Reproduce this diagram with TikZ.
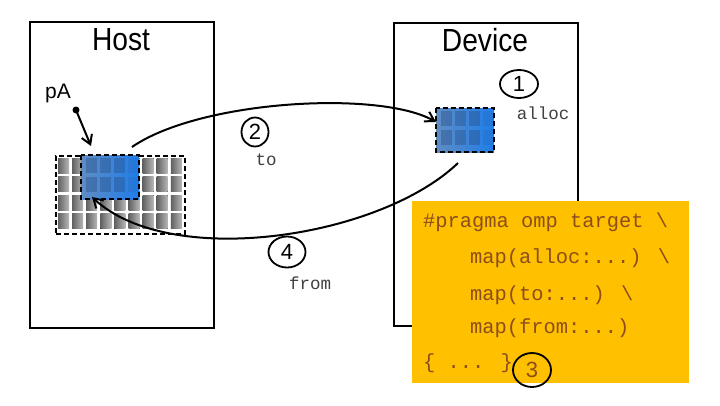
\documentclass[tikz,border=0pt]{standalone}
\usepackage{fontspec}
\setmainfont{Liberation Sans}
\newfontfamily\labelfont[FakeStretch=0.88]{Liberation Sans}
\newfontfamily\codefont{Liberation Mono}
\usetikzlibrary{shapes.geometric,arrows.meta}
\definecolor{orangebox}{RGB}{255,192,0}
\definecolor{codebrown}{RGB}{140,78,28}
\definecolor{blueL}{RGB}{95,140,195}
\definecolor{blueR}{RGB}{30,125,235}
\definecolor{cellblue}{RGB}{35,70,120}
\tikzset{
  frame/.style={draw=black, line width=1.8pt, minimum width=184pt, inner sep=0pt, anchor=north west},
  dashbox/.style={draw=black, line width=2pt, dash pattern=on 5pt off 3pt},
  arr/.style={line width=2pt, -{Straight Barb[length=9pt,width=11pt,line width=2pt]}},
  num/.style={draw, ellipse, line width=1.8pt, inner sep=0pt, font=\fontsize{22}{24}\selectfont},
  small/.style={font=\codefont\fontsize{17.5}{20}\selectfont, text=black!75},
  code/.style={font=\codefont\fontsize{20.4}{24}\selectfont, text=codebrown, anchor=west, inner sep=0pt},
  graycell/.style={left color=black!62, right color=black!28},
  blueblock/.pic={
    \fill[left color=blueL, right color=blueR] (0,0) rectangle (58,44);
    \foreach \i in {0,1,2} {
      \foreach \j in {0,1} {
        \fill[cellblue, opacity=0.35] (5+\i*14.1,3+\j*18.6) rectangle (16+\i*14.1,18+\j*18.6);
      }
    }
    \foreach \j in {0,1} {
      \fill[cellblue, opacity=0.12] (47.3,3+\j*18.6) rectangle (58,18+\j*18.6);
    }
    \draw[dashbox] (0,0) rectangle (58,44);
  }
}
\begin{document}
\begin{tikzpicture}[x=1pt,y=-1pt]
\useasboundingbox (0,0) rectangle (720,405);
\fill[white] (0,0) rectangle (720,405);

% frames
\node[frame, minimum height=306pt] (host) at (29,21) {};
\node[frame, minimum height=303pt] (device) at (393,22) {};
\node[font=\labelfont\fontsize{32}{36}\selectfont] (hostlbl) at (121,40) {Host};
\node[font=\labelfont\fontsize{32}{36}\selectfont] (devlbl) at (485,40) {Device};

% host grid
\foreach \i in {0,...,8} {
  \foreach \j in {0,...,3} {
    \fill[graycell] (58+\i*14.1,158+\j*18.6) rectangle (69+\i*14.1,173+\j*18.6);
  }
}
\node[dashbox, minimum width=129pt, minimum height=78pt, anchor=north west, inner sep=0pt] (grid) at (55,155) {};

% blue blocks
\pic at (81,155) {blueblock};
\coordinate (hostblue) at (109,177);
\pic at (436,108) {blueblock};
\coordinate (devblue) at (465,130);

% pA pointer
\node[font=\fontsize{21}{24}\selectfont] (pA) at (58,93) {pA};
\fill (76,110) circle (3.5pt);
\coordinate (pAdot) at (76,110);
\coordinate (pAtip) at (91,146);
\draw[arr] (pAdot) -- (pAtip);

% connectors
\coordinate (toStart) at (132,147);
\coordinate (toEnd) at (436,122);
\draw[arr] (toStart) .. controls (200,100) and (380,90) .. (toEnd);
\coordinate (fromStart) at (458,163);
\coordinate (fromEnd) at (92,197);
\draw[arr] (fromStart) .. controls (380,238) and (170,270) .. (fromEnd);

% step markers
\node[num, minimum width=38pt, minimum height=28pt] (c1) at (519,84) {1};
\node[small] (alloc) at (543,113) {alloc};
\node[num, minimum width=27pt, minimum height=29pt] (c2) at (255,132) {2};
\node[small] (to) at (266,160) {to};
\node[num, minimum width=37pt, minimum height=31pt] (c4) at (287,252) {4};
\node[small] (from) at (310,283) {from};

% code box
\node[fill=orangebox, minimum width=277pt, minimum height=182pt, anchor=north west, inner sep=0pt] (codebox) at (412,201) {};
\node[code] (l1) at (423,222) {\#pragma omp target \textbackslash};
\node[code] (l2) at (470,258) {map(alloc:...) \textbackslash};
\node[code] (l3) at (470,295) {map(to:...) \textbackslash};
\node[code] (l4) at (470,328) {map(from:...)};
\node[code] (l5) at (423,363) {\{ ... \}};
\node[num, minimum width=38pt, minimum height=34pt, text=codebrown] (c3) at (532,370) {3};
\end{tikzpicture}
\end{document}
